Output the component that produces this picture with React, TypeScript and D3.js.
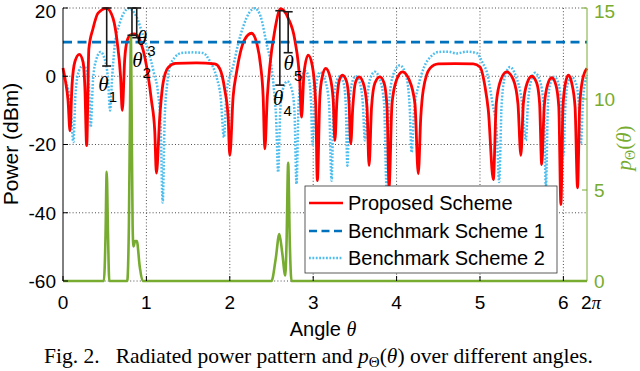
import React from 'react';
import * as d3 from 'd3';

const TWO_PI = 2 * Math.PI;

// ---------- data ----------
const angleTicks = [0, 1, 2, 3, 4, 5, 6];
const powerTicks = [-60, -40, -20, 0, 20];
const densityTicks = [0, 5, 10, 15];

// Proposed Scheme: [angle (rad), power (dBm)]
const proposedScheme: [number, number][] = [
  [0.0, 2.4], [0.03, -1.5], [0.06, -7], [0.084, -16],
  [0.108, -2.6], [0.144, 4.4], [0.196, 6.4], [0.24, 4.2], [0.262, -3], [0.284, -20.3],
  [0.31, 8], [0.36, 14], [0.42, 18.5], [0.524, 19.9], [0.6, 17], [0.65, 10], [0.69, 0], [0.711, -10],
  [0.74, 5], [0.77, 10.5], [0.81, 12.1], [0.855, 12.4], [0.9, 11.5], [0.98, 5.7], [1.06, -7], [1.1, -16], [1.12, -28.4],
  [1.16, -12], [1.2, -2], [1.26, 2.5], [1.35, 3.8], [1.6, 3.9], [1.82, 3.6], [1.88, 2.2], [1.94, -4], [1.98, -12], [2.0, -23.2],
  [2.04, -6], [2.08, 1], [2.175, 10.6], [2.26, 12.6], [2.33, 9], [2.37, 3], [2.4, -6], [2.42, -21.3],
  [2.45, -6], [2.48, 3], [2.54, 13.5], [2.61, 19.8], [2.7, 17], [2.78, 10.6], [2.84, -2], [2.86, -12],
  [2.89, 1], [2.94, 6.2], [2.99, 3], [3.03, -8], [3.05, -30.6],
  [3.08, -6], [3.11, 0], [3.15, 2.3], [3.2, 0], [3.24, -7], [3.26, -18.8],
  [3.285, -7], [3.31, -1.5], [3.35, 0.3], [3.4, -1.5], [3.43, -8], [3.45, -19.8],
  [3.475, -9], [3.505, -2], [3.55, -0.2], [3.6, -2], [3.645, -9], [3.67, -26.2],
  [3.7, -9], [3.74, -2], [3.8, -0.2], [3.85, -2], [3.885, -9], [3.91, -32.4],
  [3.945, -8], [4.0, -1], [4.07, 1.3], [4.15, -1], [4.22, -8], [4.26, -28.6],
  [4.29, -12], [4.32, -4], [4.4, 2.3], [4.5, 3.6], [4.7, 3.7], [4.92, 3.6], [5.0, 2.7], [5.06, -3], [5.1, -10], [5.16, -30.3],
  [5.195, -8], [5.25, -1], [5.32, 1.3], [5.4, -1], [5.455, -8], [5.49, -23.2],
  [5.52, -8], [5.565, -2], [5.62, 0], [5.68, -2], [5.715, -8], [5.74, -25.9],
  [5.77, -9], [5.81, -2.5], [5.86, -0.4], [5.91, -2.5], [5.945, -9], [5.97, -37.6],
  [5.995, -9], [6.025, -2], [6.06, 0.3], [6.1, -2], [6.14, -9], [6.17, -32.7],
  [6.195, -9], [6.23, -1], [6.283, 2.3],
];

// Benchmark Scheme 1: constant level
const benchmark1Level = 10;
const benchmark1: [number, number][] = [[0, benchmark1Level], [TWO_PI, benchmark1Level]];

// Benchmark Scheme 2
const benchmark2: [number, number][] = [
  [0.0, 0.3], [0.04, -2], [0.09, -8], [0.124, -19.3],
  [0.15, -5], [0.19, 1.5], [0.243, 3.2], [0.29, 1], [0.315, -5], [0.332, -14.9],
  [0.36, -1], [0.4, 5], [0.45, 7.1], [0.5, 5], [0.54, -1], [0.564, -10],
  [0.59, 0], [0.62, 9], [0.68, 15.5], [0.79, 19.9], [0.88, 17.5], [0.96, 12], [1.02, 7.6], [1.09, 1], [1.14, -5], [1.17, -14], [1.195, -37],
  [1.22, -12], [1.25, -2], [1.28, 2.7], [1.34, 5.5], [1.42, 6.8], [1.56, 7.0], [1.68, 6.8], [1.76, 4.5], [1.84, -0.2], [1.89, -6], [1.93, -17.9],
  [1.96, -5], [2.0, 0], [2.04, 3], [2.1, 9.5], [2.16, 14.5], [2.23, 18.5], [2.3, 19.9], [2.37, 17.5], [2.44, 9.6], [2.5, 2.7], [2.53, -4], [2.555, -12], [2.58, -28.1],
  [2.605, -10], [2.635, -4], [2.69, -1.5], [2.745, -4], [2.775, -10], [2.8, -31.6],
  [2.825, -8], [2.855, -1], [2.91, 1.5], [2.95, -1], [2.975, -8], [2.99, -20],
  [3.02, -8], [3.04, -2], [3.08, 1.2], [3.14, -1], [3.19, -8], [3.22, -30.6],
  [3.245, -8], [3.275, -2], [3.32, 0], [3.365, -2], [3.39, -8], [3.41, -26.2],
  [3.435, -8], [3.465, -2], [3.51, 0], [3.56, -2], [3.595, -8], [3.62, -18.8],
  [3.645, -8], [3.68, -1], [3.74, 1.3], [3.8, -1], [3.85, -8], [3.88, -32.5],
  [3.91, -8], [3.96, 0.5], [4.04, 3.2], [4.11, 0.5], [4.155, -8], [4.18, -22.3],
  [4.21, -10], [4.26, -3], [4.33, 2.7], [4.42, 6], [4.5, 7.1], [4.62, 7.2], [4.72, 6.7], [4.84, 7.2], [4.96, 6.8], [5.03, 4], [5.09, 0.5], [5.15, -8], [5.2, -16], [5.23, -31],
  [5.26, -8], [5.3, 0], [5.36, 2.7], [5.43, 0], [5.5, -7], [5.55, -18.8],
  [5.575, -8], [5.61, -1.5], [5.66, 1.0], [5.72, -1.5], [5.765, -9], [5.79, -32.5],
  [5.815, -8], [5.845, -2], [5.89, -0.2], [5.94, -2], [5.975, -9], [6.0, -23.2],
  [6.025, -8], [6.055, -2], [6.1, -0.2], [6.15, -2], [6.185, -8], [6.21, -19.8],
  [6.235, -7], [6.26, -2], [6.283, 0.3],
];

// p_Theta(theta): right axis
const densityCurve: [number, number][] = [
  [0, 0], [0.49, 0], [0.51, 2.5], [0.524, 6.0], [0.54, 2.5], [0.555, 0],
  [0.77, 0], [0.79, 3], [0.805, 10], [0.815, 13.5], [0.825, 8], [0.835, 3], [0.845, 1.9], [0.865, 2.2], [0.885, 2.2], [0.92, 0.8], [0.955, 0],
  [2.5, 0], [2.55, 1.2], [2.594, 2.58], [2.63, 1.5], [2.665, 0.3], [2.68, 2], [2.7, 6.5], [2.72, 2], [2.74, 0],
  [TWO_PI, 0],
];

// Angle markers (I-beams)
const markerAngles = [0.524, 0.827, 0.884, 2.6, 2.7];
const markerTops = [20, 20, 20, 19.2, 18.9];
const markerBottoms = [3.0, 12.0, 11.3, -2.6, 6.9];
const markerNames = ['1', '2', '3', '4', '5'];

const legendNames = ['Proposed Scheme', 'Benchmark Scheme 1', 'Benchmark Scheme 2'];

// ---------- layout / style ----------
const W = 640, H = 371;
const PL = 63, PR = 587, PT = 8, PB = 281;
const RED = '#FF0000', DBLUE = '#0072BD', LBLUE = '#4DBEEE', GREEN = '#77AC30';
const SANS = '"Liberation Sans", Arial, Helvetica, sans-serif';
const SERIF = '"Liberation Serif", "Times New Roman", serif';
const labelOffsets: [number, number][] = [[-3.4, 18.3], [5.5, 25], [5.3, 0.5], [-1.7, 13.3], [0.4, 10.6]];

export default function App() {
  const x = d3.scaleLinear().domain([0, TWO_PI]).range([PL, PR]);
  const yL = d3.scaleLinear().domain([-60, 20]).range([PB, PT]);
  const yR = d3.scaleLinear().domain([0, 15]).range([PB, PT]);

  const lineL = d3.line<[number, number]>().x(d => x(d[0])).y(d => yL(d[1])).curve(d3.curveMonotoneX);
  const lineR = d3.line<[number, number]>().x(d => x(d[0])).y(d => yR(d[1])).curve(d3.curveMonotoneX);

  const gridStyle = { stroke: '#3a3a3a', strokeWidth: 0.9, strokeDasharray: '1 2.2' };

  const legendX = 305, legendY = 186, legendW = 252, legendH = 87;
  const legendRows = [203, 231, 258];
  const legendStyles = [
    { stroke: RED, dash: undefined as string | undefined },
    { stroke: DBLUE, dash: '8 4.5' },
    { stroke: LBLUE, dash: '1.8 1.6' },
  ];
  // top labels sit a little lower than their tick, as in the reference
  const topNudge = (isTop: boolean) => (isTop ? 3.5 : 0);

  return (
    <svg width={W} height={H} viewBox={`0 0 ${W} ${H}`}
      style={{ position: 'absolute', left: 0, top: 0, background: '#fff' }}>
      <rect x={0} y={0} width={W} height={H} fill="#fff" />
      {/* grid */}
      {angleTicks.filter(t => t > 0).map(t => (
        <line key={'gx' + t} x1={x(t)} x2={x(t)} y1={PT} y2={PB} {...gridStyle} />
      ))}
      {powerTicks.map(t => (
        <line key={'gy' + t} x1={PL} x2={PR} y1={yL(t)} y2={yL(t)} {...gridStyle} />
      ))}

      {/* curves */}
      <path d={lineL(benchmark2) || ''} fill="none" stroke={LBLUE} strokeWidth={2.5} strokeDasharray="1.8 1.6" />
      <path d={lineL(proposedScheme) || ''} fill="none" stroke={RED} strokeWidth={2.8} strokeLinejoin="round" />
      <path d={lineL(benchmark1) || ''} fill="none" stroke={DBLUE} strokeWidth={2.6} strokeDasharray="9 5.5" />
      <path d={lineR(densityCurve) || ''} fill="none" stroke={GREEN} strokeWidth={2.6} strokeLinejoin="round" />

      {/* markers */}
      {markerAngles.map((a, i) => {
        const cx = x(a), y1 = yL(markerTops[i]), y2 = yL(markerBottoms[i]);
        const [ox, oy] = labelOffsets[i];
        const lx = cx + ox, ly = y2 + oy;
        return (
          <g key={'m' + i}>
            <line x1={cx} x2={cx} y1={y1} y2={y2} stroke="#1a1a1a" strokeWidth={1.6} />
            <line x1={cx - 4.5} x2={cx + 4.5} y1={y1} y2={y1} stroke="#1a1a1a" strokeWidth={1.6} />
            <line x1={cx - 4.5} x2={cx + 4.5} y1={y2} y2={y2} stroke="#1a1a1a" strokeWidth={1.6} />
            <text x={lx} y={ly + 7} textAnchor="middle" fontFamily={SERIF} fontStyle="italic" fontSize={21} fill="#000">θ</text>
            <text x={lx + 9.5} y={ly + 12.5 + 5.5} textAnchor="middle" fontFamily={SANS} fontSize={15} fill="#000">{markerNames[i]}</text>
          </g>
        );
      })}

      {/* legend */}
      <rect x={legendX} y={legendY} width={legendW} height={legendH} fill="#fff" stroke="#333" strokeWidth={0.8} />
      {legendNames.map((name, i) => (
        <g key={'lg' + i}>
          <line x1={309} x2={343} y1={legendRows[i]} y2={legendRows[i]} stroke={legendStyles[i].stroke}
            strokeWidth={2.6} strokeDasharray={legendStyles[i].dash} />
          <text x={348} y={legendRows[i] + 7} fontFamily={SANS} fontSize={20} fill="#000">{name}</text>
        </g>
      ))}

      {/* axes */}
      <line x1={PL} x2={PL} y1={PT} y2={PB} stroke="#000" strokeWidth={1} />
      <line x1={PR} x2={PR} y1={PT} y2={PB} stroke={GREEN} strokeWidth={1} />
      {powerTicks.map(t => (
        <g key={'lt' + t}>
          <line x1={PL} x2={PL + 5} y1={yL(t)} y2={yL(t)} stroke="#000" strokeWidth={1} />
          <text x={56} y={yL(t) + 6.8 + topNudge(t === 20)} textAnchor="end" fontFamily={SANS} fontSize={19} fill="#000">{t}</text>
        </g>
      ))}
      {densityTicks.map(t => (
        <g key={'rt' + t}>
          <line x1={PR - 5} x2={PR} y1={yR(t)} y2={yR(t)} stroke={GREEN} strokeWidth={1} />
          <text x={594} y={yR(t) + 6.8 + topNudge(t === 15)} fontFamily={SANS} fontSize={19} fill={GREEN}>{t}</text>
        </g>
      ))}
      {angleTicks.map(t => (
        <g key={'xt' + t}>
          <line x1={x(t)} x2={x(t)} y1={PB} y2={PB - 5} stroke="#000" strokeWidth={1} />
          <text x={x(t)} y={309} textAnchor="middle" fontFamily={SANS} fontSize={19} fill="#000">{t}</text>
        </g>
      ))}
      <text x={x(TWO_PI) + 4} y={309} textAnchor="middle" fontFamily={SANS} fontSize={19} fill="#000">
        2<tspan fontFamily={SERIF} fontStyle="italic">π</tspan>
      </text>

      {/* axis labels */}
      <text transform="translate(17.5,144) rotate(-90)" textAnchor="middle" fontFamily={SANS} fontSize={21} fill="#000">Power (dBm)</text>
      <text x={323} y={336} textAnchor="middle" fontFamily={SANS} fontSize={20} fill="#000">
        Angle <tspan fontFamily={SERIF} fontStyle="italic">θ</tspan>
      </text>
      <text transform="translate(631,148) rotate(-90)" textAnchor="middle" fontFamily={SERIF} fontSize={21} fill={GREEN}>
        <tspan fontStyle="italic">p</tspan>
        <tspan fontSize={14} dy={4}>Θ</tspan>
        <tspan dy={-4}>(</tspan>
        <tspan fontStyle="italic">θ</tspan>
        <tspan>)</tspan>
      </text>

      {/* caption */}
      <text x={44} y={363} fontFamily={SERIF} fontSize={21.5} fill="#000">
        Fig. 2.{'\u00A0\u00A0\u00A0'}Radiated power pattern and <tspan fontStyle="italic">p</tspan>
        <tspan fontSize={15} dy={4}>Θ</tspan><tspan dy={-4}>(</tspan><tspan fontStyle="italic">θ</tspan>) over different angles.
      </text>
    </svg>
  );
}
